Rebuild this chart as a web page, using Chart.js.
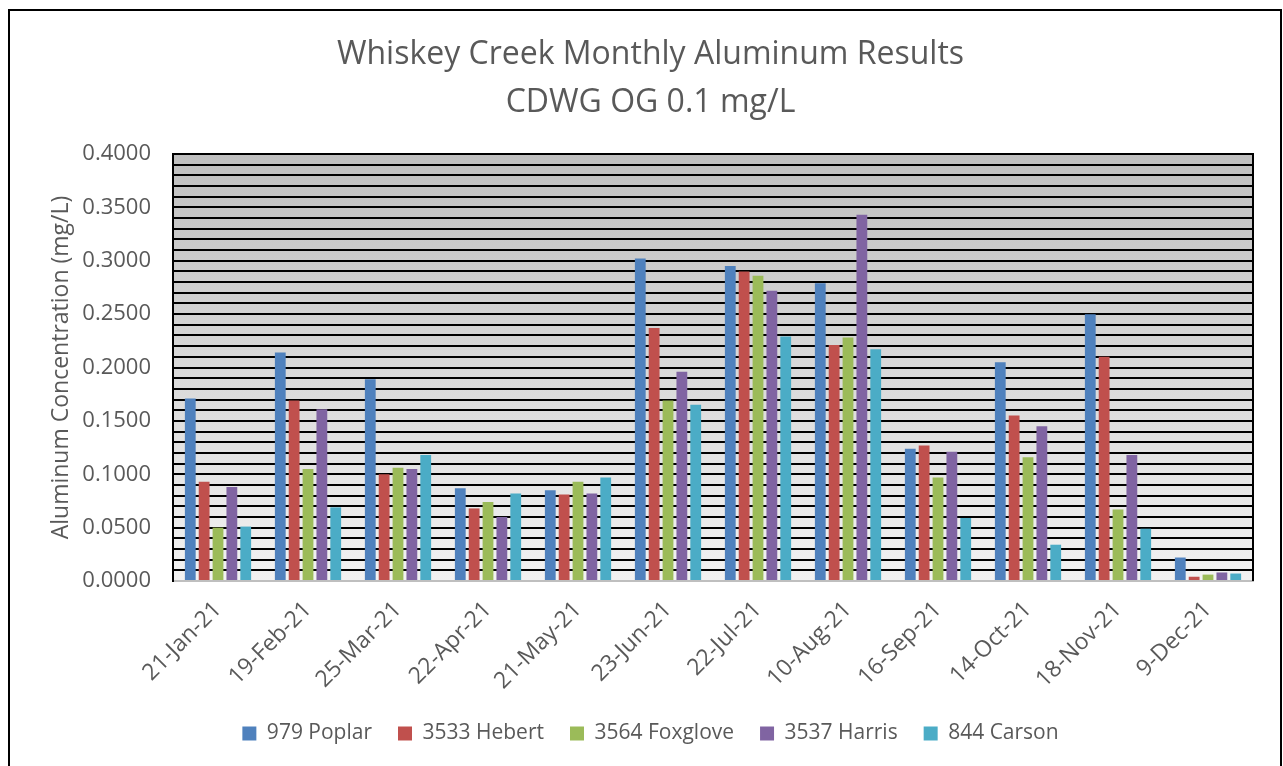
<!DOCTYPE html>
<html>
<head>
<meta charset="utf-8">
<script src="https://cdn.jsdelivr.net/npm/chart.js@4"></script>
<style>
  body { margin: 0; background: #fff; }
  #wrap { position: relative; width: 1283px; height: 766px; overflow: hidden; }
  #frame { position: absolute; left: 8px; top: 9px; width: 1270px; height: 800px; border: 2px solid #000; }
  #myChart { position: absolute; left: 0; top: 0; }
</style>
</head>
<body>
<div id="wrap">
  <div id="frame"></div>
  <canvas id="myChart" width="1283" height="766"></canvas>
</div>
<script>
const categories = ["21-Jan-21", "19-Feb-21", "25-Mar-21", "22-Apr-21", "21-May-21", "23-Jun-21",
  "22-Jul-21", "10-Aug-21", "16-Sep-21", "14-Oct-21", "18-Nov-21", "9-Dec-21"];
const poplar = [0.171, 0.214, 0.189, 0.087, 0.085, 0.302, 0.295, 0.279, 0.124, 0.205, 0.250, 0.022];
const hebert = [0.093, 0.169, 0.100, 0.068, 0.081, 0.237, 0.290, 0.221, 0.127, 0.155, 0.210, 0.004];
const foxglove = [0.050, 0.105, 0.106, 0.074, 0.093, 0.169, 0.286, 0.228, 0.097, 0.116, 0.067, 0.006];
const harris = [0.088, 0.161, 0.105, 0.060, 0.082, 0.196, 0.272, 0.343, 0.121, 0.145, 0.118, 0.008];
const carson = [0.051, 0.069, 0.118, 0.082, 0.097, 0.165, 0.229, 0.217, 0.059, 0.034, 0.049, 0.007];
const yMax = 0.4;
const gridStep = 0.01;
const labelStep = 0.05;

const textColor = "#595959";
const font = "'Open Sans', sans-serif";

// gray gradient behind the plot + right edge of the plot frame
const plotBackground = {
  id: "plotBackground",
  beforeDraw(chart) {
    const { ctx, chartArea: { left, top, right, bottom } } = chart;
    const g = ctx.createLinearGradient(0, top, 0, bottom);
    g.addColorStop(0, "#bfbfbf");
    g.addColorStop(1, "#f2f2f2");
    ctx.save();
    ctx.fillStyle = g;
    ctx.fillRect(left, top, right - left, bottom - top);
    ctx.restore();
  },
  afterDraw(chart) {
    const { ctx, chartArea: { top, right, bottom } } = chart;
    ctx.save();
    ctx.strokeStyle = "#000";
    ctx.lineWidth = 2;
    ctx.beginPath();
    ctx.moveTo(right, top - 1);
    ctx.lineTo(right, bottom);
    ctx.stroke();
    ctx.restore();
  },
};

const ctx = document.getElementById("myChart").getContext("2d");
new Chart(ctx, {
  type: "bar",
  data: {
    labels: categories,
    datasets: [
      { label: "979 Poplar", data: poplar, backgroundColor: "#4F81BD" },
      { label: "3533 Hebert", data: hebert, backgroundColor: "#C0504D" },
      { label: "3564 Foxglove", data: foxglove, backgroundColor: "#9BBB59" },
      { label: "3537 Harris", data: harris, backgroundColor: "#8064A2" },
      { label: "844 Carson", data: carson, backgroundColor: "#4BACC6" },
    ],
  },
  options: {
    responsive: false,
    animation: false,
    categoryPercentage: 0.77,
    barPercentage: 0.78,
    layout: { padding: { left: 48, right: 30, top: 31, bottom: 12 } },
    plugins: {
      title: {
        display: true,
        text: ["Whiskey Creek Monthly Aluminum Results", "CDWG OG 0.1 mg/L"],
        color: textColor,
        font: { family: font, size: 32, weight: "normal", lineHeight: 1.5 },
        padding: { top: 0, bottom: 27 },
      },
      legend: {
        position: "bottom",
        labels: {
          color: textColor,
          font: { family: font, size: 21 },
          boxWidth: 14,
          boxHeight: 14,
          padding: 26,
        },
      },
      tooltip: { enabled: false },
    },
    scales: {
      x: {
        grid: { display: false },
        border: { display: true, color: "#bfbfbf", width: 2 },
        ticks: {
          color: textColor,
          font: { family: font, size: 23 },
          minRotation: 45,
          maxRotation: 45,
          padding: 7,
        },
        afterFit: function (scale) {
          scale.height -= 5;
        },
      },
      y: {
        min: 0,
        max: yMax,
        border: { display: true, color: "#000", width: 2 },
        grid: {
          drawTicks: false,
          lineWidth: 2,
          color: (c) => (c.tick && c.tick.value === 0 ? "rgba(0,0,0,0)" : "#000"),
        },
        ticks: {
          stepSize: gridStep,
          autoSkip: false,
          padding: 22,
          color: textColor,
          font: { family: font, size: 22 },
          callback: function (v) {
            const k = Math.round(v / gridStep);
            const every = Math.round(labelStep / gridStep);
            return k % every === 0 ? v.toFixed(4) : "";
          },
        },
        title: {
          display: true,
          text: "Aluminum Concentration (mg/L)",
          color: textColor,
          font: { family: font, size: 23 },
          padding: { top: 0, bottom: 0 },
        },
        afterFit: function (scale) {
          scale.width = 125;
        },
      },
    },
  },
  plugins: [plotBackground],
});
</script>
</body>
</html>
